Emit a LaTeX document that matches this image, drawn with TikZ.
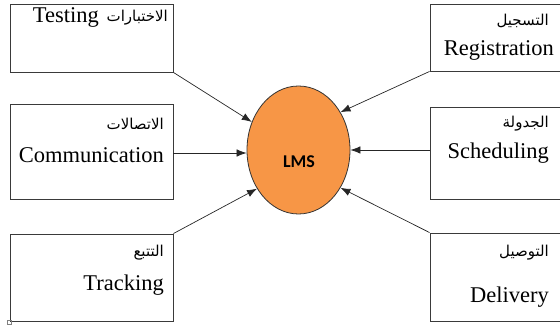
\documentclass[tikz,border=0pt]{standalone}
\usepackage{fontspec}
\setmainfont{Liberation Serif}
\newfontfamily\arabicfont[Script=Arabic]{DejaVu Sans}
\newfontfamily\calib{Carlito}
\TeXXeTstate=1
\usetikzlibrary{arrows.meta,shapes.geometric}
\definecolor{lmsorange}{HTML}{F79646}
\definecolor{boxline}{HTML}{3A3A3A}
\tikzset{
  box/.style={draw=boxline,line width=0.9pt,rectangle,inner sep=0pt,minimum width=#1},
  eng/.style={inner sep=0pt,anchor=east,font=\fontsize{22.5}{26}\selectfont},
  arb/.style={inner sep=0pt,anchor=east,font=\fontsize{15}{18}\arabicfont},
  conn/.style={draw=black!85,line width=0.7pt,-{Latex[length=10pt,width=7.5pt]}}
}
\begin{document}
\begin{tikzpicture}[x=1pt,y=-1pt]
\useasboundingbox (0,0) rectangle (560,328);
\clip (0,0) rectangle (560,328);
% boxes
\node[box=163pt,minimum height=68pt] (test) at (91.5,38) {};
\node[box=163pt,minimum height=95pt] (comm) at (91.5,151.5) {};
\node[box=163pt,minimum height=87pt] (track) at (91.5,277.5) {};
\node[box=145pt,minimum height=67pt] (reg) at (502.5,37.5) {};
\node[box=145pt,minimum height=92pt] (sched) at (502.5,153) {};
\node[box=145pt,minimum height=88pt] (deliv) at (502.5,277) {};
% labels
\node[arb] (testar) at (168,18) {\beginR الاختبارات\endR};
\node[eng] (testen) at (99,17) {Testing};
\node[arb] (commar) at (164,124) {\beginR الاتصالات\endR};
\node[eng] (commen) at (164,155) {Communication};
\node[arb] (trackar) at (164,253) {\beginR التتبع\endR};
\node[eng] (tracken) at (164,285) {Tracking};
\node[arb] (regar) at (549,21) {\beginR التسجيل\endR};
\node[eng] (regen) at (554,50) {Registration};
\node[arb] (schedar) at (549,124) {\beginR الجدولة\endR};
\node[eng] (scheden) at (549,153) {Scheduling};
\node[arb] (delivar) at (549,253) {\beginR التوصيل\endR};
\node[eng] (deliven) at (549,297) {Delivery};
% center
\node[ellipse,draw=black!80,line width=0.8pt,fill=lmsorange,minimum width=103pt,minimum height=128pt,inner sep=0pt] (lms) at (298.5,150) {};
\node[font=\calib\bfseries\fontsize{18}{21}\selectfont,inner sep=0pt] (lmst) at (299,162) {LMS};
% connectors
\draw[conn] (test.south east) -- (lms.149);
\draw[conn] ([yshift=-1.5pt]comm.east) -- ([yshift=-1.5pt]comm.east -| lms.west);
\draw[conn] (track.north east) -- (lms.223);
\draw[conn] (reg.south west) -- (lms.42);
\draw[conn] ([yshift=3pt]sched.west) -- (lms.east);
\draw[conn] (deliv.north west) -- (lms.318);
% anchor mark
\node[draw=gray,line width=0.4pt,minimum size=4pt,inner sep=0pt] (mark) at (9.5,322.5) {};
\end{tikzpicture}
\end{document}
